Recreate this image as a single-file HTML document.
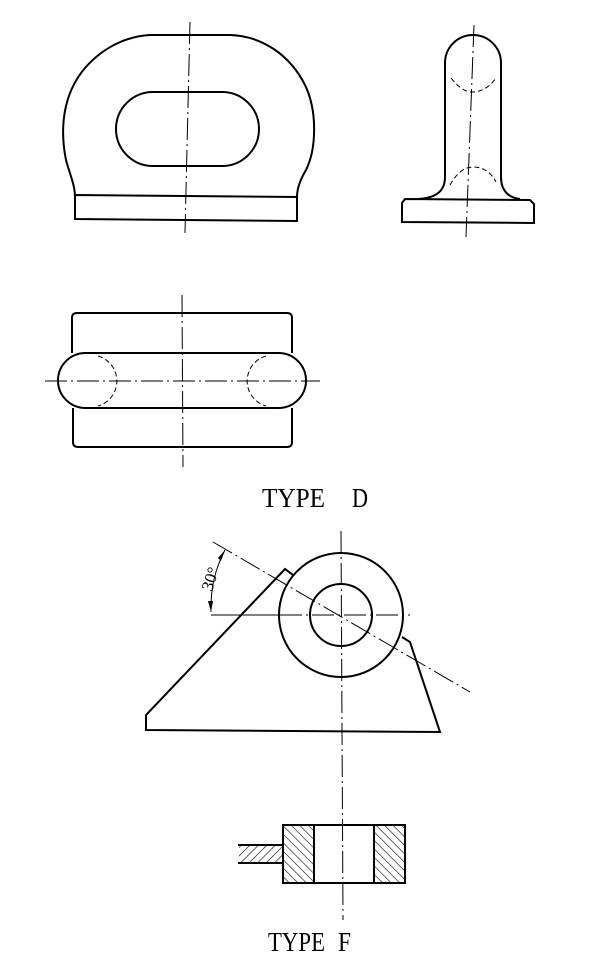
<!DOCTYPE html>
<html><head><style>body{margin:0;background:#fff}svg{display:block}</style></head><body>
<svg width="600" height="963" viewBox="0 0 600 963" xmlns="http://www.w3.org/2000/svg">
<defs>
<pattern id="h" width="6" height="6" patternUnits="userSpaceOnUse" patternTransform="rotate(-45)"><line x1="0" y1="0" x2="0" y2="6" stroke="#000" stroke-width="1.2"/></pattern>
<pattern id="h2" width="6" height="6" patternUnits="userSpaceOnUse" patternTransform="rotate(45)"><line x1="0" y1="0" x2="0" y2="6" stroke="#000" stroke-width="1.2"/></pattern>
</defs>
<g fill="none" stroke="#000" stroke-width="2">
<path d="M75,197 C75,185 70,175 66,160 C60,130 62,95 85,68 C105,45 130,36 150,35 L230,35 C262,36 290,55 305,85 C318,112 316,150 306,170 C300,180 297,188 297,197"/>
<path d="M75,195 L297,197 L297,221 L75,219 Z"/>
<rect x="116" y="92" width="143" height="74" rx="37"/>
<path d="M445,177 L445,63 A28,28 0 0 1 501,63 L501,177 C501,192 510,198 520,199"/>
<path d="M445,177 C445,192 435,198 418,199"/>
<path d="M405,199 L530,200 L534,204 L534,223 L402,222 L402,203 Z"/>
<path d="M72,353 L72,318 Q72,313 77,313 L287,313 Q292,313 292,318 L292,353"/>
<path d="M73,408 L73,442 Q73,447 78,447 L287,447 Q292,447 292,442 L292,408"/>
<rect x="58" y="353" width="248" height="55" rx="27.5"/>
<circle cx="341" cy="615" r="62"/>
<circle cx="341" cy="615" r="31"/>
<path d="M293,575 L285,569 L146,715 L146,730 L440,732 L410,642 L402,637"/>
<rect x="283" y="825" width="31" height="58" fill="url(#h)"/>
<rect x="374" y="825" width="31" height="58" fill="url(#h)"/>
<rect x="283" y="825" width="122" height="58"/>
<path d="M283,845 L238,845 M238,863 L283,863"/>
</g>
<rect x="239" y="846" width="43" height="16" fill="url(#h2)"/>
<g fill="none" stroke="#000" stroke-width="1" stroke-dasharray="22,4,2,4">
<line x1="190" y1="22" x2="185" y2="233"/>
<line x1="474" y1="25" x2="466" y2="237"/>
<line x1="182" y1="295" x2="183" y2="467"/>
<line x1="45" y1="381" x2="320" y2="381"/>
<line x1="341" y1="531" x2="343" y2="920"/>
<line x1="213" y1="542" x2="470" y2="692"/>
<line x1="280" y1="615" x2="410" y2="615"/>
</g>
<g fill="none" stroke="#000" stroke-width="1" stroke-dasharray="5,3">
<path d="M451,78 Q462,92 472,92 Q486,92 496,78"/>
<path d="M450,185 Q460,167 473,167 Q488,167 496,182"/>
<path d="M98,356 A26,26 0 0 1 98,406"/>
<path d="M266,356 A26,26 0 0 0 266,406"/>
</g>
<g stroke="#000" stroke-width="1" fill="none">
<line x1="211" y1="615" x2="282" y2="615"/>
<path d="M225,550 Q210,578 211,612"/>
</g>
<path d="M225,550 L221,561 L218,558 Z M211,612 L208,601 L213,601 Z" fill="#000"/>
<text transform="translate(212,592) rotate(-72)" font-family="Liberation Serif, serif" font-size="17">30°</text>
<g font-family="Liberation Serif, serif" font-size="27">
<text x="262" y="507" textLength="63" lengthAdjust="spacingAndGlyphs">TYPE</text><text x="352" y="507" textLength="16" lengthAdjust="spacingAndGlyphs">D</text>
<text x="268" y="951" textLength="57" lengthAdjust="spacingAndGlyphs">TYPE</text><text x="338" y="951" textLength="13" lengthAdjust="spacingAndGlyphs">F</text>
</g>
</svg>
</body></html>
